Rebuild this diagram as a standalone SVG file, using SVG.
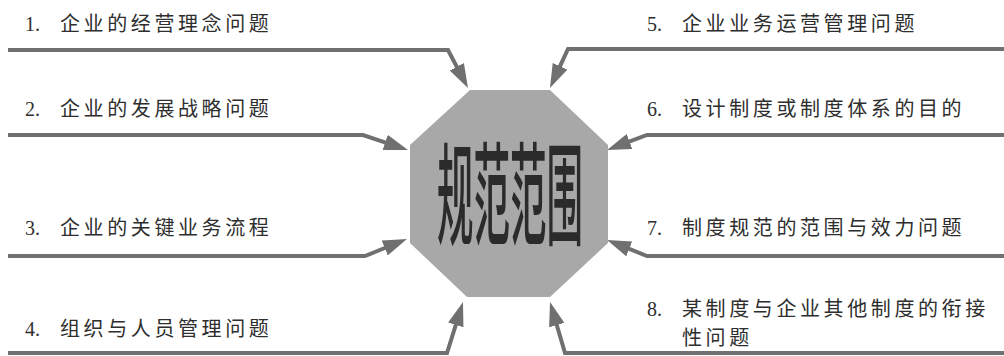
<svg xmlns="http://www.w3.org/2000/svg" width="1004" height="356" viewBox="0 0 1004 356">
  <style>
    .num { font-family: "Liberation Serif", serif; font-size: 20px; fill: #2e2e2e; }
    .cjk { font-family: "Noto Sans CJK SC", sans-serif; font-size: 20px; letter-spacing: 3.6px; fill: #2e2e2e; }
    .conn { fill: none; stroke: #707070; stroke-width: 4; stroke-linejoin: miter; marker-end: url(#ah); }
    .title { font-family: "Noto Sans CJK SC", sans-serif; font-weight: 500; font-size: 112px; fill: #2b2b2b; }
  </style>
  <defs>
    <marker id="ah" viewBox="0 0 24 16" markerWidth="24" markerHeight="16" markerUnits="userSpaceOnUse" refX="6" refY="8" orient="auto">
      <path d="M0,0 L24,8 L0,16 z" fill="#707070"/>
    </marker>
  </defs>
  <rect width="1004" height="356" fill="#ffffff"/>

  <g id="connectors">
    <path class="conn" d="M8,50 L448,50 L459.6,72.1"/>
    <path class="conn" d="M8,135 L363,135 L390.9,144.3"/>
    <path class="conn" d="M8,256 L365,256 L390.3,245.75"/>
    <path class="conn" d="M8,353 L447,353 L457.6,319.2"/>
    <path class="conn" d="M1004,49 L568,49 L557.5,71.7"/>
    <path class="conn" d="M1004,135 L647,135 L623.9,143.7"/>
    <path class="conn" d="M1004,256 L647,256 L623.7,246.7"/>
    <path class="conn" d="M1004,353 L565,353 L555.1,319.3"/>
  </g>

  <g id="center">
    <polygon points="470,90 550,90 608,145 608,243 550,297 467,297 410,243 410,145" fill="#a8a8a8"/>
    <text class="title" transform="translate(437,237) scale(0.326,1)" x="0" y="0">规范范围</text>
  </g>

  <g id="item1"><text class="num" x="25" y="31">1.</text><text class="cjk" x="60" y="31">企业的经营理念问题</text></g>
  <g id="item2"><text class="num" x="25" y="116">2.</text><text class="cjk" x="60" y="116">企业的发展战略问题</text></g>
  <g id="item3"><text class="num" x="25" y="235">3.</text><text class="cjk" x="60" y="235">企业的关键业务流程</text></g>
  <g id="item4"><text class="num" x="25" y="336">4.</text><text class="cjk" x="60" y="336">组织与人员管理问题</text></g>
  <g id="item5"><text class="num" x="647" y="31">5.</text><text class="cjk" x="682" y="31">企业业务运营管理问题</text></g>
  <g id="item6"><text class="num" x="647" y="116">6.</text><text class="cjk" x="682" y="116">设计制度或制度体系的目的</text></g>
  <g id="item7"><text class="num" x="647" y="235">7.</text><text class="cjk" x="682" y="235">制度规范的范围与效力问题</text></g>
  <g id="item8"><text class="num" x="647" y="316">8.</text><text class="cjk" x="682" y="316">某制度与企业其他制度的衔接</text><text class="cjk" x="682" y="345">性问题</text></g>
</svg>
